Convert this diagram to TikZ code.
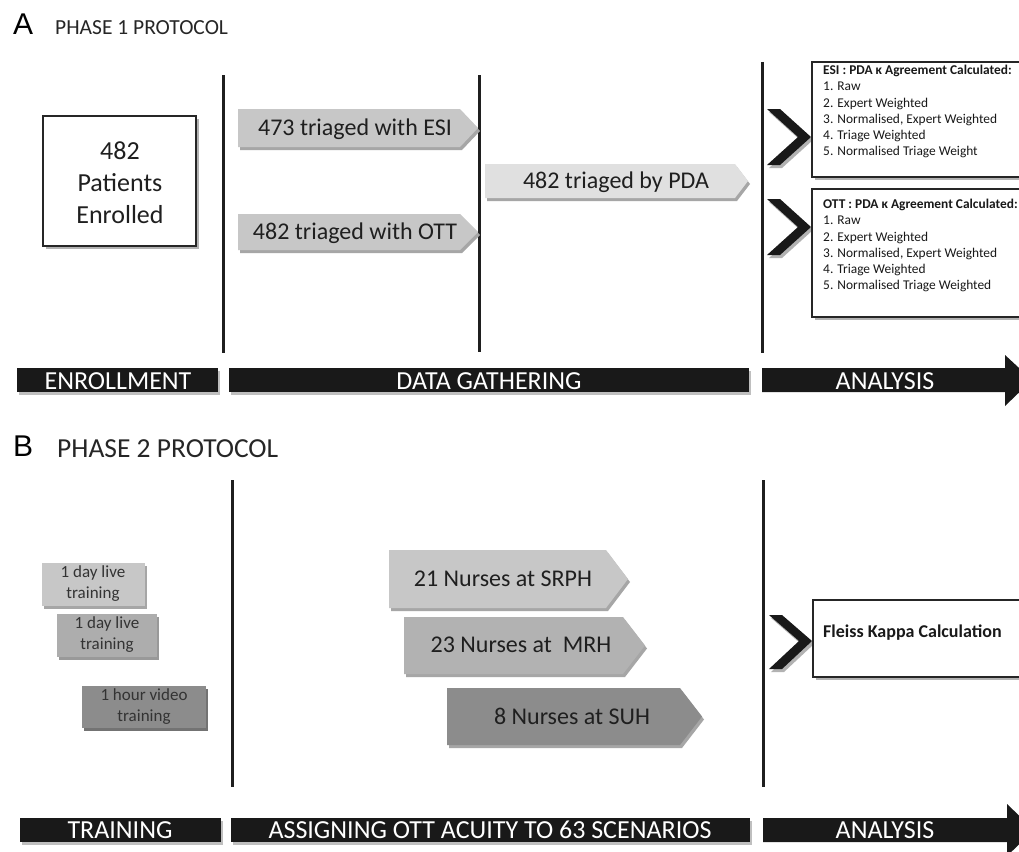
\documentclass[tikz,border=0pt]{standalone}
\usepackage{fontspec}
\setmainfont{Carlito}
\newfontfamily\helvfont{Liberation Sans}
\tikzset{
  vline/.style={line width=3pt, draw=black!88},
  barseg/.style={fill=black!90},
  barshad/.style={fill=black!25},
  bartxt/.style={text=white, font=\fontsize{26}{26}\selectfont, inner sep=0},
  wbox/.style={draw=black!85, line width=1.4pt, fill=white},
  shad/.style={fill=black!30},
  arrtxt/.style={font=\fontsize{24}{24}\selectfont, text=black!88, inner sep=0},
  trtxt/.style={font=\fontsize{17}{21}\selectfont, text=black!80, inner sep=0, align=center},
  listtxt/.style={anchor=north west, inner sep=0, align=left, font=\fontsize{13.4}{16.2}\selectfont, text=black!90},
}
\newcommand{\pentarrow}[6]{%
  \fill[black!35] ({#1+2},{#2+3}) -- ({#3-#5+2},{#2+3}) -- ({#3+2},{(#2+#4)/2+3}) -- ({#3-#5+2},{#4+3}) -- ({#1+2},{#4+3}) -- cycle;
  \fill[#6] (#1,#2) -- ({#3-#5},#2) -- (#3,{(#2+#4)/2}) -- ({#3-#5},#4) -- (#1,#4) -- cycle;
}
\newcommand{\chevron}[5]{% x, ytop, ytip, ybot, xtip
  \fill[black!30] ({#1+2},{#2+3}) -- ({#1+15},{#2+3}) -- ({#5+2},{#3+3}) -- ({#1+15},{#4+3}) -- ({#1+2},{#4+3}) -- ({#5-11},{#3+3}) -- cycle;
  \fill[black!90] (#1,#2) -- ({#1+13},#2) -- (#5,#3) -- ({#1+13},#4) -- (#1,#4) -- ({#5-13},#3) -- cycle;
}
\begin{document}
\begin{tikzpicture}[x=1pt,y=-1pt]
\useasboundingbox (0,0) rectangle (1019,851);
\clip (0,0) rectangle (1019,851);
\fill[white] (0,0) rectangle (1019,851);

% ---------------- Panel A ----------------
\node[anchor=base west, inner sep=0, font=\helvfont\fontsize{30}{30}\selectfont] (labA) at (13,35) {A};
\node[anchor=base west, inner sep=0, font=\fontsize{21.5}{22}\selectfont, text=black!85] (titA) at (55,35) {PHASE 1 PROTOCOL};

% vertical lines
\coordinate (a1t) at (223,75); \coordinate (a1b) at (223,353);
\coordinate (a2t) at (479,75); \coordinate (a2b) at (479,352);
\coordinate (a3t) at (762,62); \coordinate (a3b) at (762,353);
\draw[vline] (a1t) -- (a1b);
\draw[vline] (a2t) -- (a2b);
\draw[vline] (a3t) -- (a3b);

% enrolled box
\fill[shad] (46,119) rectangle (199,249);
\draw[wbox] (43,116) rectangle (196,246);
\node[align=center, inner sep=0, font=\fontsize{26}{32}\selectfont, text=black!88] (enr) at (120,183) {482\\Patients\\Enrolled};

% arrows
\pentarrow{238}{109}{478}{147}{18}{black!22}
\node[arrtxt] (esi) at (355,129) {473 triaged with ESI};
\pentarrow{238}{214}{478}{250}{18}{black!22}
\node[arrtxt] (ott) at (355,233) {482 triaged with OTT};
\pentarrow{485}{164}{748}{198}{13}{black!12}
\node[arrtxt] (pda) at (616,182) {482 triaged by PDA};

% chevrons
\chevron{767}{109}{137}{165}{811}
\chevron{767}{199}{227}{255}{811}

% result boxes
\fill[shad] (815,65) rectangle (1030,180);
\draw[wbox] (812,62) rectangle (1030,177);
\node[listtxt] (esires) at (823,65) {\textbf{ESI : PDA κ Agreement Calculated:}\\1. Raw\\2. Expert Weighted\\3. Normalised, Expert Weighted\\4. Triage Weighted\\5. Normalised Triage Weight};
\fill[shad] (815,192) rectangle (1030,320);
\draw[wbox] (812,189) rectangle (1030,317);
\node[listtxt] (ottres) at (823,199) {\textbf{OTT : PDA κ Agreement Calculated:}\\1. Raw\\2. Expert Weighted\\3. Normalised, Expert Weighted\\4. Triage Weighted\\5. Normalised Triage Weighted};

% phase bar A
\fill[barshad] (19,371) rectangle (220,395);
\fill[barshad] (231,371) rectangle (751,395);
\fill[barseg] (17,368) rectangle (218,392);
\fill[barseg] (229,368) rectangle (749,392);
\fill[barseg] (762,368) -- (1005,368) -- (1005,355) -- (1032,380) -- (1005,406) -- (1005,392) -- (762,392) -- cycle;
\node[bartxt] (enrl) at (118,381) {ENROLLMENT};
\node[bartxt] (datag) at (489,381) {DATA GATHERING};
\node[bartxt] (anA) at (885,381) {ANALYSIS};

% ---------------- Panel B ----------------
\node[anchor=base west, inner sep=0, font=\helvfont\fontsize{30}{30}\selectfont] (labB) at (13,456) {B};
\node[anchor=base west, inner sep=0, font=\fontsize{27.5}{28}\selectfont, text=black!85] (titB) at (57,457) {PHASE 2 PROTOCOL};

\coordinate (b1t) at (232,480); \coordinate (b1b) at (232,787);
\coordinate (b2t) at (763,480); \coordinate (b2b) at (763,787);
\draw[vline] (b1t) -- (b1b);
\draw[vline] (b2t) -- (b2b);

% training boxes
\fill[black!35] (44,566) rectangle (147,609);
\fill[black!22] (42,563) rectangle (145,606);
\node[trtxt] (tr1) at (93,584) {1 day live\\training};
\fill[black!40] (59,617) rectangle (159,660);
\fill[black!32] (57,614) rectangle (157,657);
\node[trtxt] (tr2) at (107,635) {1 day live\\training};
\fill[black!55] (84,689) rectangle (208,731);
\fill[black!45] (82,686) rectangle (206,728);
\node[trtxt] (tr3) at (144,707) {1 hour video\\training};

% nurses arrows
\pentarrow{389}{550}{628}{608}{22}{black!22}
\node[arrtxt] (srph) at (503,579) {21 Nurses at SRPH};
\pentarrow{404}{617}{645}{674}{22}{black!30}
\node[arrtxt] (mrh) at (521,645) {23 Nurses at ~MRH};
\pentarrow{447}{688}{702}{745}{22}{black!45}
\node[arrtxt] (suh) at (572,716) {8 Nurses at SUH};

% chevron + Fleiss box
\chevron{769}{615}{641}{669}{812}
\fill[shad] (816,603) rectangle (1030,680);
\draw[wbox] (813,600) rectangle (1030,677);
\node[anchor=west, inner sep=0, font=\bfseries\fontsize{18}{18}\selectfont, text=black!90] (fk) at (823,633) {Fleiss Kappa Calculation};

% phase bar B
\fill[barshad] (22,821) rectangle (223,845);
\fill[barshad] (233,821) rectangle (752,845);
\fill[barseg] (20,818) rectangle (221,842);
\fill[barseg] (231,818) rectangle (750,842);
\fill[barseg] (763,818) -- (1007,818) -- (1007,804) -- (1034,830) -- (1007,856) -- (1007,842) -- (763,842) -- cycle;
\node[bartxt] (trn) at (120,830) {TRAINING};
\node[bartxt] (assign) at (490,830) {ASSIGNING OTT ACUITY TO 63 SCENARIOS};
\node[bartxt] (anB) at (885,830) {ANALYSIS};
\end{tikzpicture}
\end{document}
